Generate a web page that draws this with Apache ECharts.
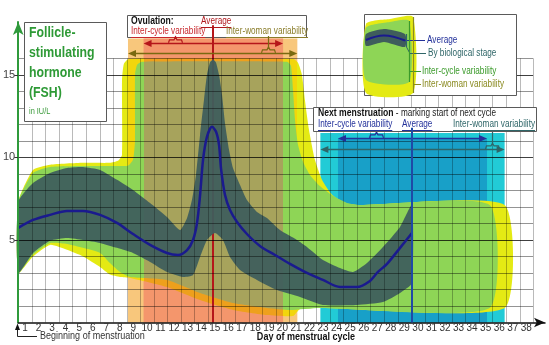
<!DOCTYPE html>
<html>
<head>
<meta charset="utf-8">
<script src="https://cdn.jsdelivr.net/npm/echarts@6.0.0/dist/echarts.min.js"></script>
<style>
html,body{margin:0;padding:0;background:#ffffff;}
#chart{width:549px;height:345px;}
</style>
</head>
<body>
<div id="chart"></div>
<script>
// ================= DATA =================
const days = [1,2,3,4,5,6,7,8,9,10,11,12,13,14,15,16,17,18,19,20,21,22,23,24,25,26,27,28,29,30,31,32,33,34,35,36,37,38];
const yTickLabels = [5, 10, 15];
const gridDayLines = [0.5,1.5,2.5,3.5,4.5,5.5,6.5,7.5,8.5,9.5,10.5,11.5,12.5,13.5,14.5,15.5,16.5,17.5,18.5,19.5,20.5,21.5,22.5,23.5,24.5,25.5,26.5,27.5,28.5,29.5,30.5,31.5,32.5,33.5,34.5,35.5,36.5,37.5,38.5];
const gridValueLines = [1,2,3,4,5,6,7,8,9,10,11,12,13,14,15,16];
const gridTopValue = 16;

// ovulation (day of cycle)
const ovulationAverage = 14.9;
const ovulationInterCycle = [9.75, 20.05];
const ovulationInterWoman = [8.6, 21.1];
const ovulationBandTop = 17.2;
// next menstruation (day of cycle)
const nextMensAverage = 29.56;
const nextMensInterCycle = [24.1, 35.1];
const nextMensInterWoman = [22.8, 36.4];
const nextMensInterCycleTop = 11.18;
const nextMensInterWomanTop = 11.48;

// FSH average (IU/L) by day
const averageFSH = [[0.5,5.73],[1.59,6.21],[2.85,6.52],[4.1,6.76],[5.28,6.76],[6.54,6.52],[7.79,6.03],[8.97,5.36],[10.23,4.7],[11.48,4.21],[12.29,4.09],[12.96,4.39],[13.4,5.0],[13.69,6.0],[13.92,7.7],[14.14,9.85],[14.43,11.24],[14.8,11.85],[15.1,11.55],[15.32,10.76],[15.47,9.3],[15.76,7.73],[16.13,6.82],[16.65,6.09],[17.38,5.36],[18.34,4.64],[19.45,4.09],[20.56,3.55],[21.81,3.0],[22.99,2.58],[24.25,2.15],[25.5,2.15],[26.46,2.52],[27.05,3.06],[27.72,3.55],[28.68,4.52],[29.56,5.42]];

// by biological stage band
const stageUpper = [[0.5,7.3],[1.59,8.45],[2.85,9.06],[4.1,9.36],[5.28,9.42],[6.54,9.24],[7.79,8.64],[8.97,8.03],[10.23,7.24],[11.48,6.39],[12.44,5.6],[12.96,6.33],[13.32,7.42],[13.62,8.94],[13.92,11.36],[14.21,13.48],[14.43,15.0],[14.65,15.73],[14.88,15.94],[15.1,15.73],[15.32,15.0],[15.54,13.79],[15.76,12.09],[16.06,10.45],[16.35,9.36],[16.87,8.33],[17.38,7.42],[18.12,6.7],[18.86,6.33],[19.82,5.6],[21.07,5.0],[21.81,4.58],[22.99,3.79],[24.25,3.3],[25.21,3.06],[26.24,3.61],[27.42,4.58],[28.68,5.79],[29.56,7.12]];
const stageLower = [[0.5,3.0],[1.59,4.21],[2.85,4.95],[4.1,5.12],[5.28,5.0],[6.54,4.82],[7.79,4.52],[8.97,4.21],[10.23,3.67],[11.48,3.06],[12.66,2.76],[13.4,2.88],[13.92,3.97],[14.43,5.0],[15.02,5.42],[15.61,5.0],[16.13,3.97],[16.87,3.18],[18.12,2.58],[19.6,1.97],[21.3,1.55],[22.99,1.06],[25.5,1.06],[27.42,1.24],[28.68,1.79],[29.56,2.39]];

// inter-cycle variability band
const interCycleUpper = [[0.5,7.3],[1.59,9.06],[2.85,9.42],[5.28,9.48],[7.27,9.48],[8.6,9.5],[8.97,9.85],[9.12,11.06],[9.12,15.0],[9.27,15.6],[9.63,15.79],[20.34,15.79],[20.63,15.55],[20.78,14.09],[20.93,12.27],[21.15,10.76],[21.52,9.73],[22.03,8.94],[22.77,8.27],[23.73,7.67],[24.76,7.24],[25.72,7.12],[35.3,7.12]];
const interCycleLower = [[0.5,3.0],[1.59,4.1],[2.85,4.82],[4.1,4.76],[5.28,4.52],[6.54,4.21],[7.27,3.6],[8.01,3.06],[8.75,2.76],[11.48,2.58],[13.92,1.79],[16.35,1.18],[18.86,0.88],[20.56,0.76],[22.77,0.88],[35.3,0.88]];

// inter-woman variability band
const interWomanUpper = [[0.5,7.3],[1.59,9.24],[2.85,9.55],[5.28,9.67],[7.27,9.67],[7.86,9.79],[8.16,10.15],[8.16,14.7],[8.3,15.67],[8.68,15.97],[20.78,15.97],[21.15,15.73],[21.44,15.0],[21.66,13.48],[21.96,11.67],[22.4,9.85],[22.92,8.64],[23.66,7.73],[24.62,7.24],[25.58,7.12],[36.4,7.12]];
const interWomanLower = [[0.5,3.0],[1.59,4.0],[2.85,4.7],[4.1,4.4],[5.28,4.0],[6.54,3.36],[7.27,2.9],[8.01,2.76],[8.75,2.7],[11.48,2.15],[13.92,1.36],[16.35,0.76],[18.86,0.45],[20.78,0.39],[21.3,0.82],[22.77,0.88],[36.4,0.88]];

// ================= STYLE / LAYOUT =================
const FONT = '"Liberation Sans Narrow","Liberation Sans",Arial,sans-serif';
const NARROW = 0.82;
const C = {
  ovWoman:'#f8c77c', ovCycle:'#f4966c', nmWoman:'#22cbd6', nmCycle:'#18a0c8',
  yellow:'#e4ea14', yellowLightOr:'#f2d60c', yellowOr:'#eea01c',
  green:'#8ed556', olive:'#a7a35c', slate:'#3f5d5c', avg:'#1a1a8e',
  red:'#b5161a', redText:'#c8282c', oliveText:'#8a7d2a', navy:'#22309a', teal:'#2f6668',
  gText:'#2e9a36'
};
const arrowLayout = {ovCycleY:16.94, ovWomanY:16.33, ovBoxBottom:17.35, nmCycleY:11.18, nmWomanY:10.51, nmBoxBottom:11.6,
  ovCycleBrace:12.07, ovWomanBrace:18.93, nmCycleBrace:26.9, nmWomanBrace:35.5};

const chart = echarts.init(document.getElementById('chart'), null, {renderer:'canvas'});
const mctx = document.createElement('canvas').getContext('2d');
function tw(t, f){ mctx.font = f; return mctx.measureText(t).width; }
function fnt(size, bold){ return (bold ? 'bold ' : '') + size + 'px ' + FONT; }

function segGradient(api, bounds, colors){
  const x0 = api.coord([0.5,0])[0], x1 = api.coord([38.5,0])[0];
  const stops = []; let prev = 0;
  colors.forEach((c,i)=>{
    const end = i < bounds.length ? (api.coord([bounds[i],0])[0]-x0)/(x1-x0) : 1;
    stops.push({offset:prev,color:c},{offset:end,color:c});
    prev = end;
  });
  return {type:'linear', x:x0, y:0, x2:x1, y2:0, colorStops:stops, global:true};
}

function bandSeries(name, upper, lower, fillFn, z, opacity){
  return {
    type:'custom', name, z, silent:true, clip:false,
    data:[upper[0]],
    renderItem:(params, api)=>{
      const pts = upper.concat(lower.slice().reverse()).map(p=>api.coord(p));
      return {type:'polygon', shape:{points:pts, smooth:0.18}, style:{fill:fillFn(api), opacity:opacity}};
    }
  };
}

const rectData = [
  [ovulationInterWoman[0], ovulationInterWoman[1], 0, ovulationBandTop],
  [ovulationInterCycle[0], ovulationInterCycle[1], 0, ovulationBandTop],
  [nextMensInterWoman[0], nextMensInterWoman[1], 0, nextMensInterWomanTop],
  [nextMensInterCycle[0], nextMensInterCycle[1], 0, nextMensInterCycleTop]
];
const rectColors = [C.ovWoman, C.ovCycle, C.nmWoman, C.nmCycle];

const arrowData = [
  [ovulationInterCycle[0], ovulationInterCycle[1], arrowLayout.ovCycleY, 0],
  [ovulationInterWoman[0], ovulationInterWoman[1], arrowLayout.ovWomanY, 1],
  [nextMensInterCycle[0], nextMensInterCycle[1], arrowLayout.nmCycleY, 2],
  [nextMensInterWoman[0], nextMensInterWoman[1], arrowLayout.nmWomanY, 3]
];
const braceData = [
  [arrowLayout.ovCycleBrace, arrowLayout.ovCycleY, arrowLayout.ovBoxBottom, 0],
  [arrowLayout.ovWomanBrace, arrowLayout.ovWomanY, arrowLayout.ovBoxBottom, 1],
  [arrowLayout.nmCycleBrace, arrowLayout.nmCycleY, arrowLayout.nmBoxBottom, 2],
  [arrowLayout.nmWomanBrace, arrowLayout.nmWomanY, arrowLayout.nmBoxBottom, 3]
];
const arrowColors = [C.red, '#7a6a10', C.navy, C.teal];

function vline(api, d, v0, v1, color, w){
  const a = api.coord([d,v0]), b = api.coord([d,v1]);
  const x = Math.round(a[0]) + (w%2 ? 0.5 : 0);
  return {type:'line', shape:{x1:x,y1:a[1],x2:x,y2:b[1]}, style:{stroke:color, lineWidth:w}};
}

const series = [
  { type:'custom', z:1, silent:true, clip:false, data:rectData, encode:{x:[0,1], y:[2,3]},
    renderItem:(p, api)=>{
      const a = api.coord([api.value(0), api.value(3)]), b = api.coord([api.value(1), api.value(2)]);
      return {type:'rect', shape:{x:a[0], y:a[1], width:b[0]-a[0], height:b[1]-a[1]}, style:{fill:rectColors[p.dataIndex]}};
    }},
  bandSeries('Inter-woman variability', interWomanUpper, interWomanLower,
    api=>segGradient(api, [ovulationInterWoman[0], ovulationInterCycle[0], ovulationInterCycle[1], ovulationInterWoman[1]],
      [C.yellow, C.yellowLightOr, C.yellowOr, C.yellowLightOr, C.yellow]), 2, 1),
  bandSeries('Inter-cycle variability', interCycleUpper, interCycleLower,
    api=>segGradient(api, [ovulationInterCycle[0], ovulationInterCycle[1]], [C.green, C.olive, C.green]), 3, 1),
  { type:'custom', z:4, silent:true, clip:false, data:[[ovulationAverage, 0]],
    renderItem:(p, api)=>vline(api, ovulationAverage, 0, 18.0, C.red, 2) },
  bandSeries('By biological stage', stageUpper, stageLower, ()=>C.slate, 5, 0.94),
  { type:'custom', z:6, silent:true, clip:false, data:gridDayLines.map(d=>[d,0]),
    renderItem:(p, api)=>vline(api, api.value(0), 0, gridTopValue, 'rgba(0,0,0,0.27)', 1) },
  { type:'custom', z:6, silent:true, clip:false, data:gridValueLines.map(v=>[0.5,v]),
    renderItem:(p, api)=>{
      const v = api.value(1);
      const a = api.coord([gridDayLines[0], v]), b = api.coord([gridDayLines[gridDayLines.length-1], v]);
      const y = Math.round(a[1]) + 0.5;
      return {type:'line', shape:{x1:a[0],y1:y,x2:b[0],y2:y}, style:{stroke: v%5===0 ? 'rgba(0,0,0,0.75)' : 'rgba(0,0,0,0.42)', lineWidth:1}};
    }},
  { type:'line', name:'Average', z:7, data:averageFSH, smooth:0.3, showSymbol:false, silent:true,
    lineStyle:{color:C.avg, width:2.5} },
  { type:'custom', z:60, silent:true, clip:false, data:[[nextMensAverage, 0]],
    renderItem:(p, api)=>vline(api, nextMensAverage, 0, 11.8, '#1f4aa6', 2) },
  { type:'custom', z:9, silent:true, clip:false, data:arrowData, encode:{x:[0,1], y:2},
    renderItem:(p, api)=>{
      const col = arrowColors[api.value(3)];
      const a = api.coord([api.value(0), api.value(2)]), b = api.coord([api.value(1), api.value(2)]);
      const y = Math.round(a[1]) + 0.5, L = 8, H = 3.5;
      return {type:'group', children:[
        {type:'line', shape:{x1:a[0]+4,y1:y,x2:b[0]-4,y2:y}, style:{stroke:col, lineWidth:1.6}},
        {type:'polygon', shape:{points:[[a[0],y],[a[0]+L,y-H],[a[0]+L,y+H]]}, style:{fill:col}},
        {type:'polygon', shape:{points:[[b[0],y],[b[0]-L,y-H],[b[0]-L,y+H]]}, style:{fill:col}}
      ]};
    }},
  { type:'custom', z:9, silent:true, clip:false, data:braceData, encode:{x:0, y:[1,2]},
    renderItem:(p, api)=>{
      const col = arrowColors[api.value(3)];
      const a = api.coord([api.value(0), api.value(1)]), t = api.coord([api.value(0), api.value(2)]);
      const x = Math.round(a[0]) + 0.5, y = a[1];
      return {type:'group', children:[
        {type:'polyline', shape:{points:[[x-7,y],[x-6,y-3],[x-1.5,y-3],[x,y-6],[x+1.5,y-3],[x+6,y-3],[x+7,y]]}, style:{stroke:col, lineWidth:1.2, fill:null}},
        {type:'line', shape:{x1:x,y1:y-6,x2:x,y2:t[1]}, style:{stroke:col, lineWidth:1.2}}
      ]};
    }}
];

// ================= TEXT / BOXES (graphic) =================
const G = [];
function box(x, y, w, h, z){ G.push({type:'rect', z:z, silent:true, shape:{x:x+0.5, y:y+0.5, width:w, height:h}, style:{fill:'#fff', stroke:'#5a5a5a', lineWidth:1}}); }
function text(x, y, s, size, color, bold, underline, z){
  const f = fnt(size, bold);
  G.push({type:'text', z:z, silent:true, x:x, y:y, scaleX:NARROW, style:{text:s, x:0, y:0, font:f, fill:color, align:'left', verticalAlign:'middle'}});
  const w = tw(s, f) * NARROW;
  if (underline) G.push({type:'line', z:z, silent:true, shape:{x1:x, y1:Math.round(y+size*0.55)+0.5, x2:x+w, y2:Math.round(y+size*0.55)+0.5}, style:{stroke:color, lineWidth:1}});
  return w;
}
// FSH title box
box(24, 22, 82, 99, 50);
text(29, 33, 'Follicle-', 15, C.gText, true, false, 51);
text(29, 53, 'stimulating', 15, C.gText, true, false, 51);
text(29, 73, 'hormone', 15, C.gText, true, false, 51);
text(29, 93, '(FSH)', 15, C.gText, true, false, 51);
text(29, 112, 'in IU/L', 9, '#3a9a3a', false, false, 51);
// Ovulation box
box(127, 15, 179, 22, 0);
text(131, 21.5, 'Ovulation:', 10.5, '#111', true, false, 1);
text(201, 21.5, 'Average', 10, '#b0181c', false, true, 1);
text(131, 31, 'Inter-cycle variability', 10, C.redText, false, true, 1);
text(226, 31, 'Inter-woman variability', 10, C.oliveText, false, true, 1);
// Next menstruation box
box(313, 107, 223, 24, 50);
const wNM = text(318, 113.5, 'Next menstruation', 10.5, '#111', true, false, 51);
text(318 + wNM, 113.5, ' - marking start of next cycle', 10, '#222', false, false, 51);
text(318, 124, 'Inter-cycle variability', 10, C.navy, false, true, 51);
text(402, 124, 'Average', 10, C.navy, false, true, 51);
text(453, 124, 'Inter-woman variability', 10, C.teal, false, true, 51);
// Legend box with miniature
box(364, 14, 152, 81, 50);
G.push({type:'polygon', z:51, silent:true, shape:{points:[[366,24],[390,19],[413,17],[413,93],[366,93]], smooth:0.2}, style:{fill:C.yellow}});
G.push({type:'polygon', z:51, silent:true, shape:{points:[[366,28],[390,22],[409,21],[409,82],[366,80]], smooth:0.2}, style:{fill:C.green}});
G.push({type:'polygon', z:52, silent:true, shape:{points:[[366,34],[384,29],[405,34],[405,47],[384,42],[366,46]], smooth:0.2}, style:{fill:C.slate}});
G.push({type:'polyline', z:53, silent:true, shape:{points:[[366,40],[384,35.5],[405,40.5]], smooth:0.4}, style:{stroke:C.avg, lineWidth:2, fill:null}});
G.push({type:'line', z:53, silent:true, shape:{x1:405,y1:40.5,x2:425,y2:40.5}, style:{stroke:C.navy, lineWidth:1}});
G.push({type:'line', z:53, silent:true, shape:{x1:406.5,y1:34,x2:406.5,y2:47}, style:{stroke:C.teal, lineWidth:1.2}});
G.push({type:'polyline', z:53, silent:true, shape:{points:[[406.5,47],[410,53.5],[426,53.5]]}, style:{stroke:C.teal, lineWidth:1, fill:null}});
G.push({type:'line', z:53, silent:true, shape:{x1:409.5,y1:21,x2:409.5,y2:82}, style:{stroke:'#3a9a2a', lineWidth:1.2}});
G.push({type:'line', z:53, silent:true, shape:{x1:409.5,y1:71.5,x2:421,y2:71.5}, style:{stroke:'#3a9a2a', lineWidth:1}});
G.push({type:'line', z:53, silent:true, shape:{x1:413.5,y1:17,x2:413.5,y2:93}, style:{stroke:'#8a8a20', lineWidth:1.2}});
G.push({type:'line', z:53, silent:true, shape:{x1:413.5,y1:84.5,x2:421,y2:84.5}, style:{stroke:'#8a8a20', lineWidth:1}});
text(427, 40, 'Average', 10, C.navy, false, false, 53);
text(428, 53, 'By biological stage', 10, C.teal, false, false, 53);
text(422, 71, 'Inter-cycle variability', 10, '#3a9a2a', false, false, 53);
text(422, 84, 'Inter-woman variability', 10, '#8a8a20', false, false, 53);
// bottom annotations
G.push({type:'polyline', z:53, silent:true, shape:{points:[[17.5,327],[17.5,336.5],[37,336.5]]}, style:{stroke:'#222', lineWidth:1, fill:null}});
G.push({type:'polygon', z:53, silent:true, shape:{points:[[17.5,323.5],[15,330],[20,330]]}, style:{fill:'#111'}});
text(40, 336, 'Beginning of menstruation', 11, '#333', false, false, 53);
const dayLbl = 'Day of menstrual cycle';
text(306 - tw(dayLbl, fnt(11, true))*NARROW/2, 337, dayLbl, 11, '#111', true, false, 53);

const option = {
  animation:false,
  grid:{left:18, right:4, top:22, bottom:22.5},
  xAxis:{type:'value', min:0.5, max:39.38, z:10,
    axisLine:{show:true, lineStyle:{color:'#111', width:1.5}, symbol:['none','arrow'], symbolSize:[7,11]},
    axisTick:{show:false},
    axisLabel:{customValues:days, fontSize:10, fontFamily:'"Liberation Sans",Arial,sans-serif', color:'#333', margin:1},
    splitLine:{show:false}},
  yAxis:{type:'value', min:0, max:18.2, z:10,
    axisLine:{show:true, lineStyle:{color:'#2f9a3b', width:2}, symbol:['none','arrow'], symbolSize:[8,13]},
    axisTick:{show:true, customValues:yTickLabels, length:4, lineStyle:{color:'#333'}},
    axisLabel:{customValues:yTickLabels, fontSize:11, fontFamily:'"Liberation Sans",Arial,sans-serif', color:'#444', margin:3},
    splitLine:{show:false}},
  series:series,
  graphic:{elements:G}
};
chart.setOption(option);
</script>
</body>
</html>
